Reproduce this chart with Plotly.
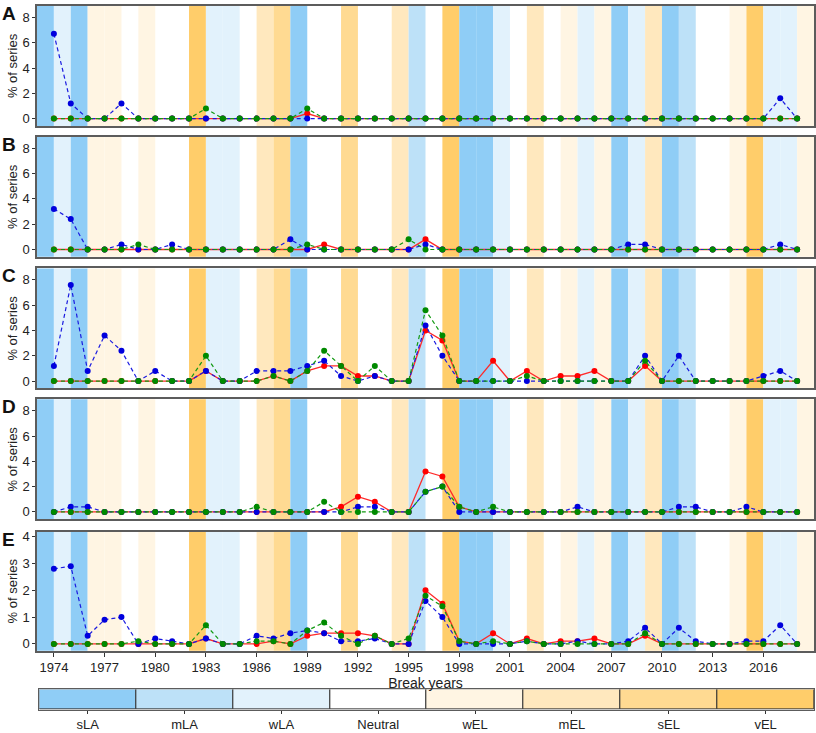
import plotly.graph_objects as go

# break years shown on each panel
years = list(range(1974, 2019))

# ENSO class of each yearly band (band y spans y..y+1)
band_years = list(range(1973, 2019))
enso_class = [
    "sLA", "wLA", "sLA", "wEL", "wEL", "Neutral", "wEL", "Neutral", "Neutral", "vEL",   # 1973-82
    "wLA", "wLA", "Neutral", "mEL", "sEL", "sLA", "Neutral", "Neutral", "sEL", "Neutral",  # 1983-92
    "Neutral", "mEL", "mLA", "Neutral", "vEL", "sLA", "sLA", "wLA", "Neutral", "mEL",  # 1993-2002
    "Neutral", "wEL", "wLA", "wEL", "sLA", "wLA", "mEL", "sLA", "mLA", "Neutral",  # 2003-12
    "Neutral", "wEL", "vEL", "wLA", "wLA", "wEL",  # 2013-18
]

categories = ["sLA", "mLA", "wLA", "Neutral", "wEL", "mEL", "sEL", "vEL"]
cat_colors = ["#8fcdf6", "#bde1f8", "#e2f2fc", "#ffffff", "#fff5e3", "#ffe8be", "#ffda92", "#ffcd6a"]

panel_labels = ["A", "B", "C", "D", "E"]

# rows: 1974-83 | 1984-93 | 1994-2003 | 2004-13 | 2014-18
red_a = [0, 0, 0, 0, 0, 0, 0, 0, 0, 0,
         0, 0, 0, 0, 0, 0.4, 0, 0, 0, 0,
         0, 0, 0, 0, 0, 0, 0, 0, 0, 0,
         0, 0, 0, 0, 0, 0, 0, 0, 0, 0,
         0, 0, 0, 0, 0]
blue_a = [6.7, 1.2, 0, 0, 1.2, 0, 0, 0, 0, 0,
          0, 0, 0, 0, 0, 0, 0, 0, 0, 0,
          0, 0, 0, 0, 0, 0, 0, 0, 0, 0,
          0, 0, 0, 0, 0, 0, 0, 0, 0, 0,
          0, 0, 0, 1.6, 0]
green_a = [0, 0, 0, 0, 0, 0, 0, 0, 0, 0.8,
           0, 0, 0, 0, 0, 0.8, 0, 0, 0, 0,
           0, 0, 0, 0, 0, 0, 0, 0, 0, 0,
           0, 0, 0, 0, 0, 0, 0, 0, 0, 0,
           0, 0, 0, 0, 0]

red_b = [0, 0, 0, 0, 0, 0, 0, 0, 0, 0,
         0, 0, 0, 0, 0, 0, 0.4, 0, 0, 0,
         0, 0, 0.8, 0, 0, 0, 0, 0, 0, 0,
         0, 0, 0, 0, 0, 0, 0, 0, 0, 0,
         0, 0, 0, 0, 0]
blue_b = [3.2, 2.4, 0, 0, 0.4, 0, 0, 0.4, 0, 0,
          0, 0, 0, 0, 0.8, 0, 0, 0, 0, 0,
          0, 0, 0.4, 0, 0, 0, 0, 0, 0, 0,
          0, 0, 0, 0, 0.4, 0.4, 0, 0, 0, 0,
          0, 0, 0, 0.4, 0]
green_b = [0, 0, 0, 0, 0, 0.4, 0, 0, 0, 0,
           0, 0, 0, 0, 0, 0.4, 0, 0, 0, 0,
           0, 0.8, 0, 0, 0, 0, 0, 0, 0, 0,
           0, 0, 0, 0, 0, 0, 0, 0, 0, 0,
           0, 0, 0, 0, 0]

red_c = [0, 0, 0, 0, 0, 0, 0, 0, 0, 0.8,
         0, 0, 0, 0.4, 0, 0.8, 1.2, 1.2, 0.4, 0.4,
         0, 0, 4.0, 3.2, 0, 0, 1.6, 0, 0.8, 0,
         0.4, 0.4, 0.8, 0, 0, 1.2, 0, 0, 0, 0,
         0, 0, 0, 0, 0]
blue_c = [1.2, 7.6, 0.8, 3.6, 2.4, 0, 0.8, 0, 0, 0.8,
          0, 0, 0.8, 0.8, 0.8, 1.2, 1.6, 0.4, 0, 0.4,
          0, 0, 4.4, 2.0, 0, 0, 0, 0, 0, 0,
          0, 0, 0, 0, 0, 2.0, 0, 2.0, 0, 0,
          0, 0, 0.4, 0.8, 0]
green_c = [0, 0, 0, 0, 0, 0, 0, 0, 0, 2.0,
           0, 0, 0, 0.4, 0, 0.8, 2.4, 1.2, 0, 1.2,
           0, 0, 5.6, 3.6, 0, 0, 0, 0, 0.4, 0,
           0, 0, 0, 0, 0, 1.6, 0, 0, 0, 0,
           0, 0, 0, 0, 0]

red_d = [0, 0, 0, 0, 0, 0, 0, 0, 0, 0,
         0, 0, 0, 0, 0, 0, 0, 0.4, 1.2, 0.8,
         0, 0, 3.2, 2.8, 0.4, 0, 0, 0, 0, 0,
         0, 0, 0, 0, 0, 0, 0, 0, 0, 0,
         0, 0, 0, 0, 0]
blue_d = [0, 0.4, 0.4, 0, 0, 0, 0, 0, 0, 0,
          0, 0, 0, 0, 0, 0, 0, 0, 0.4, 0.4,
          0, 0, 1.6, 2.0, 0, 0, 0, 0, 0, 0,
          0, 0.4, 0, 0, 0, 0, 0, 0.4, 0.4, 0,
          0, 0.4, 0, 0, 0]
green_d = [0, 0, 0, 0, 0, 0, 0, 0, 0, 0,
           0, 0, 0.4, 0, 0, 0, 0.8, 0, 0, 0,
           0, 0, 1.6, 2.0, 0.4, 0, 0.4, 0, 0, 0,
           0, 0, 0, 0, 0, 0, 0, 0, 0, 0,
           0, 0, 0, 0, 0]

red_e = [0, 0, 0, 0, 0, 0, 0, 0, 0, 0.2,
         0, 0, 0, 0.1, 0, 0.3, 0.4, 0.4, 0.4, 0.3,
         0, 0, 2.0, 1.5, 0.1, 0, 0.4, 0, 0.2, 0,
         0.1, 0.1, 0.2, 0, 0, 0.3, 0, 0, 0, 0,
         0, 0, 0, 0, 0]
blue_e = [2.8, 2.9, 0.3, 0.9, 1.0, 0, 0.2, 0.1, 0, 0.2,
          0, 0, 0.3, 0.2, 0.4, 0.5, 0.4, 0.1, 0.1, 0.2,
          0, 0, 1.6, 1.0, 0, 0, 0, 0, 0.1, 0,
          0, 0.1, 0, 0, 0.1, 0.6, 0, 0.6, 0.1, 0,
          0, 0.1, 0.1, 0.7, 0]
green_e = [0, 0, 0, 0, 0, 0.1, 0, 0, 0, 0.7,
           0, 0, 0.1, 0.1, 0, 0.5, 0.8, 0.3, 0, 0.3,
           0, 0.2, 1.8, 1.4, 0.1, 0, 0.1, 0, 0.1, 0,
           0, 0, 0, 0, 0, 0.4, 0, 0, 0, 0,
           0, 0, 0, 0, 0]

panels = [
    (red_a, blue_a, green_a),
    (red_b, blue_b, green_b),
    (red_c, blue_c, green_c),
    (red_d, blue_d, green_d),
    (red_e, blue_e, green_e),
]

y_domains = [[0.835, 1.0], [0.655, 0.820], [0.474, 0.639], [0.294, 0.459], [0.113, 0.277]]
y_ranges = [[-0.58, 8.9]] * 4 + [[-0.26, 4.19]]
y_ticks = [[0, 2, 4, 6, 8]] * 4 + [[0, 1, 2, 3, 4]]

font_family = "Liberation Sans, Arial, sans-serif"
frame = "#5c5c5c"
color_of = dict(zip(categories, cat_colors))

fig = go.Figure()
shapes = []
annotations = []

for k, (red, blue, green) in enumerate(panels):
    n = "" if k == 0 else str(k + 1)
    for yr, cls in zip(band_years, enso_class):
        if cls == "Neutral":
            continue
        shapes.append(dict(type="rect", xref="x" + n, yref="y" + n + " domain",
                           x0=yr, x1=yr + 1, y0=0, y1=1, fillcolor=color_of[cls],
                           line=dict(width=0), layer="below"))
    fig.add_trace(go.Scatter(x=years, y=red, mode="lines+markers", xaxis="x" + n, yaxis="y" + n,
                             line=dict(color="#ff2a2a", width=1.3),
                             marker=dict(color="#ff0000", size=6), showlegend=False))
    fig.add_trace(go.Scatter(x=years, y=blue, mode="lines+markers", xaxis="x" + n, yaxis="y" + n,
                             line=dict(color="#1a1ae0", width=1.2, dash="4px,3px"),
                             marker=dict(color="#0000dd", size=6), showlegend=False))
    fig.add_trace(go.Scatter(x=years, y=green, mode="lines+markers", xaxis="x" + n, yaxis="y" + n,
                             line=dict(color="#119911", width=1.2, dash="4px,3px"),
                             marker=dict(color="#008a00", size=6), showlegend=False))

    last = k == 4
    fig.update_layout({
        "xaxis" + n: dict(domain=[0, 1], anchor="y" + n, range=[1973, 2019], automargin=False,
                          showline=True, mirror=True, linecolor=frame, linewidth=1.5,
                          showgrid=False, zeroline=False,
                          ticks="outside" if last else "", ticklen=4, tickcolor="#333",
                          showticklabels=last,
                          tickvals=list(range(1974, 2017, 3)) if last else None,
                          tickfont=dict(size=13, color="#222"),
                          title=dict(text="Break years" if last else "", font=dict(size=14, color="#222"),
                                     standoff=0)),
        "yaxis" + n: dict(domain=y_domains[k], anchor="x" + n, range=y_ranges[k], automargin=False,
                          tickvals=y_ticks[k], ticks="outside", ticklen=3, tickcolor="#333",
                          showline=True, mirror=True, linecolor=frame, linewidth=1.5,
                          showgrid=False, zeroline=False,
                          tickfont=dict(size=13, color="#222"),
                          title=dict(text="% of series", font=dict(size=13, color="#222"), standoff=2)),
    })
    annotations.append(dict(text="<b>" + panel_labels[k] + "</b>", xref="paper", yref="paper",
                            x=-0.047, y=y_domains[k][1], xanchor="left", yanchor="top", yshift=5,
                            showarrow=False, font=dict(size=19, color="#111")))

# ENSO class colour key
fig.add_trace(go.Bar(x=categories, y=[1] * len(categories), width=1, xaxis="x6", yaxis="y6",
                     marker=dict(color=cat_colors, line=dict(color="#333", width=1)),
                     showlegend=False, hoverinfo="x"))
fig.update_layout(
    xaxis6=dict(domain=[0.003, 1], anchor="y6", type="category", range=[-0.5, 7.5], automargin=False,
                showline=True, mirror=True, linecolor=frame, linewidth=1.2,
                ticks="outside", ticklen=3, tickcolor="#333",
                tickfont=dict(size=13, color="#222"), showgrid=False),
    yaxis6=dict(domain=[0.032, 0.060], anchor="x6", range=[0, 1], showticklabels=False, automargin=False,
                showline=True, mirror=True, linecolor=frame, linewidth=1.2,
                ticks="", showgrid=False, zeroline=False),
)

fig.update_layout(
    width=816, height=733,
    margin=dict(l=37, r=2, t=6, b=0),
    plot_bgcolor="white", paper_bgcolor="white",
    font=dict(family=font_family, color="#222"),
    bargap=0,
    shapes=shapes,
    annotations=annotations,
)

# the page body has a default 8px margin; drop it so the figure sits at the window corner
fig.write_html("out.html", config={"displayModeBar": False},
               post_script="document.body.style.margin='0';")
